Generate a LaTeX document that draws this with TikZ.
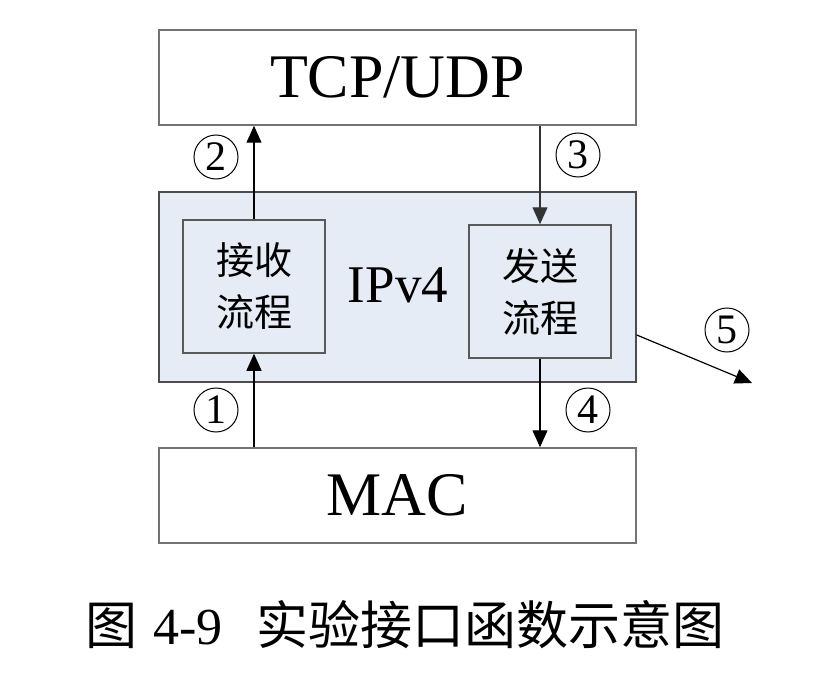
\documentclass[tikz,border=0pt]{standalone}
\usepackage{fontspec}
\setmainfont{Liberation Serif}
\newfontfamily\cjk{Noto Sans CJK SC}
\usetikzlibrary{arrows.meta, positioning}
\definecolor{ipfill}{RGB}{230,236,246}

\begin{document}
\begin{tikzpicture}[
  x=1pt, y=-1pt,
  layer/.style = {draw=black!55, line width=1.5pt, minimum width=477pt,
                  minimum height=95pt, inner sep=0pt,
                  font=\fontsize{62}{70}\selectfont},
  proc/.style  = {draw=black!65, line width=1.5pt, fill=ipfill,
                  minimum width=142pt, minimum height=133pt, inner sep=0pt,
                  align=center, font=\cjk\fontsize{38}{52}\selectfont},
  num/.style   = {draw, circle, line width=1pt, minimum size=44pt, inner sep=0pt,
                  font=\fontsize{42}{44}\selectfont},
  arrow/.style = {-{Triangle[length=17pt, width=15pt]}, line width=1.2pt},
]
\useasboundingbox (0,0) rectangle (830,682);

% Layers
\node[layer] (tcp)  at (397.5,77.5)  {TCP/UDP};
\node[layer, minimum height=190pt, fill=ipfill, draw=black!70] (ipv4) at (397.5,287) {};
\node[layer] (mac)  at (397.5,495.5) {MAC};

% IPv4 internals
\node[proc] (recv) at (254,286.5) {接收\\流程};
\node[proc] (send) at (540,291.5) {发送\\流程};
\node[font=\fontsize{53}{60}\selectfont] (iplabel) at (398,285) {IPv4};

% Arrows
\draw[arrow] (mac.north -| recv) -- (recv.south);
\draw[arrow] (recv.north) -- (recv.north |- tcp.south);
\draw[arrow, draw=black!80] (tcp.south -| send) -- (send.north);
\draw[arrow] (send.south) -- (send.south |- mac.north);
\coordinate (out) at (752,383);
\draw[arrow] ([yshift=-48pt]ipv4.east) -- (out);

% Circled numbers
\node[num] (c1) at (216,410) {1};
\node[num] (c2) at (216,157) {2};
\node[num] (c3) at (578,155) {3};
\node[num] (c4) at (588,410) {4};
\node[num] (c5) at (727,330) {5};

% Caption
\node[font=\fontsize{52}{58}\selectfont] (caption) at (405,625)
  {{\cjk 图}\hspace{16pt}4-9\hspace{34pt}{\cjk 实验接口函数示意图}};

\end{tikzpicture}
\end{document}
